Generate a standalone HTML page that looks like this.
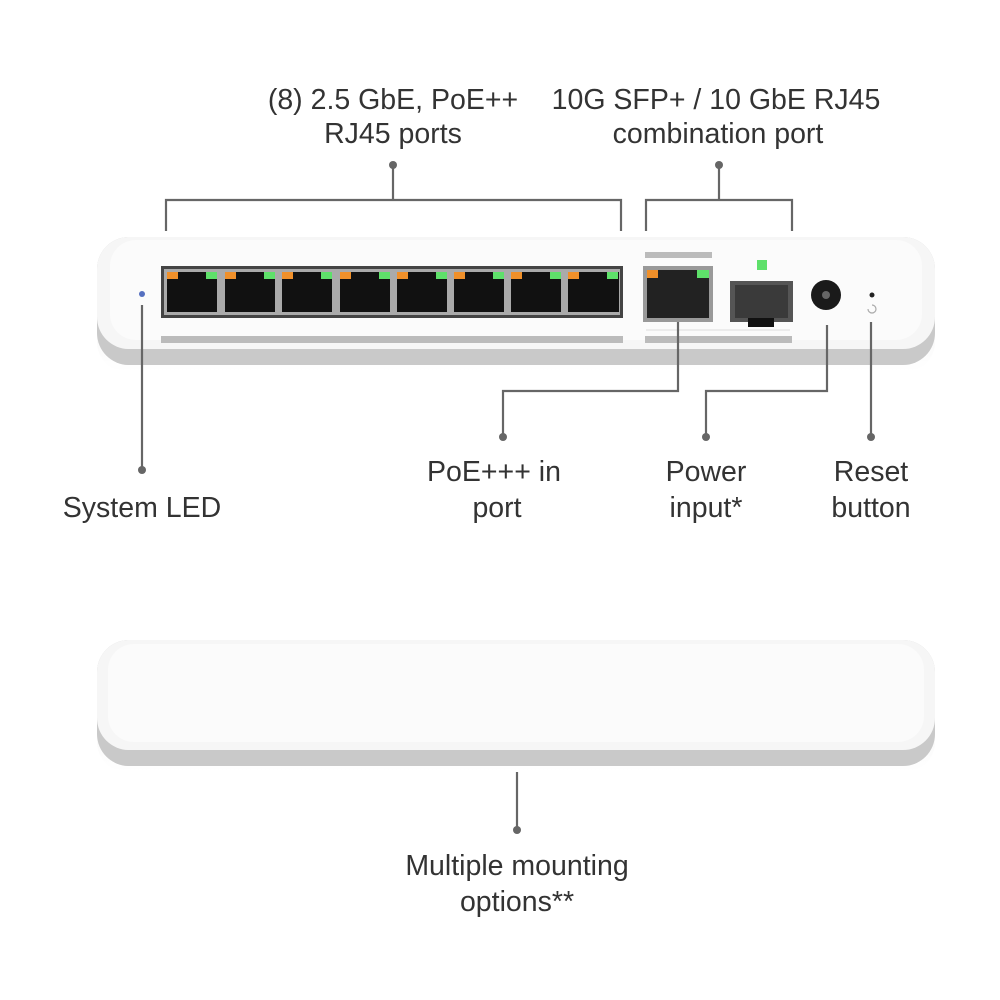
<!DOCTYPE html>
<html><head><meta charset="utf-8"><style>
html,body{margin:0;padding:0;background:#fff;}
svg{display:block}
text{font-family:"Liberation Sans","DejaVu Sans",sans-serif;fill:#333;font-size:28.5px;text-anchor:middle}
</style></head><body>
<svg width="1000" height="1000" viewBox="0 0 1000 1000" xmlns="http://www.w3.org/2000/svg">
<defs>
<linearGradient id="sh" x1="0" y1="0" x2="0" y2="1"><stop offset="0" stop-color="#ddd"/><stop offset="1" stop-color="#fff"/></linearGradient>
</defs>
<!-- labels -->
<text x="393" y="109">(8) 2.5 GbE, PoE++</text>
<text x="393" y="143">RJ45 ports</text>
<text x="716" y="109">10G SFP+ / 10 GbE RJ45</text>
<text x="718" y="143">combination port</text>
<text x="142" y="517">System LED</text>
<text x="494" y="481">PoE+++ in</text>
<text x="497" y="517">port</text>
<text x="706" y="481">Power</text>
<text x="706" y="517">input*</text>
<text x="871" y="481">Reset</text>
<text x="871" y="517">button</text>
<text x="517" y="875">Multiple mounting</text>
<text x="517" y="911">options**</text>

<!-- device 1 -->
<rect x="97" y="262" width="838" height="110" rx="30" fill="url(#sh)" opacity="0.5"/>
<rect x="97" y="237" width="838" height="128" rx="32" fill="#c9c9c9"/>
<rect x="97" y="237" width="838" height="112" rx="32" fill="#f6f6f6"/>
<rect x="110" y="240" width="812" height="100" rx="26" fill="#fbfbfb"/>
<circle cx="142" cy="294" r="3" fill="#5570c0"/>
<!-- 8 ports -->
<rect x="161" y="266" width="462" height="52" fill="#444"/>
<rect x="164" y="269" width="456" height="46" fill="#aaa"/>
<g fill="#111">
<rect x="167" y="272" width="50" height="40"/><rect x="225" y="272" width="50" height="40"/><rect x="282" y="272" width="50" height="40"/><rect x="340" y="272" width="50" height="40"/><rect x="397" y="272" width="50" height="40"/><rect x="454" y="272" width="50" height="40"/><rect x="511" y="272" width="50" height="40"/><rect x="568" y="272" width="51" height="40"/>
</g>
<g fill="#f0902a">
<rect x="167" y="272" width="11" height="7"/><rect x="225" y="272" width="11" height="7"/><rect x="282" y="272" width="11" height="7"/><rect x="340" y="272" width="11" height="7"/><rect x="397" y="272" width="11" height="7"/><rect x="454" y="272" width="11" height="7"/><rect x="511" y="272" width="11" height="7"/><rect x="568" y="272" width="11" height="7"/><rect x="647" y="274" width="11" height="8"/>
</g>
<g fill="#5ee06a">
<rect x="206" y="272" width="11" height="7"/><rect x="264" y="272" width="11" height="7"/><rect x="321" y="272" width="11" height="7"/><rect x="379" y="272" width="11" height="7"/><rect x="436" y="272" width="11" height="7"/><rect x="493" y="272" width="11" height="7"/><rect x="550" y="272" width="11" height="7"/><rect x="607" y="272" width="11" height="7"/><rect x="697" y="274" width="12" height="8"/><rect x="757" y="260" width="10" height="10"/>
</g>
<rect x="161" y="336" width="462" height="7" fill="#bbb"/>
<!-- poe in port -->
<rect x="645" y="252" width="67" height="6" fill="#bbb"/>
<rect x="643" y="266" width="70" height="56" fill="#999"/>
<rect x="647" y="270" width="62" height="48" fill="#222"/>
<rect x="647" y="270" width="11" height="8" fill="#f0902a"/>
<rect x="697" y="270" width="12" height="8" fill="#5ee06a"/>
<rect x="645" y="336" width="147" height="7" fill="#bbb"/>
<line x1="646" y1="330" x2="790" y2="330" stroke="#ddd" stroke-width="1"/>
<!-- sfp -->
<rect x="730" y="281" width="63" height="41" fill="#555"/>
<rect x="735" y="285" width="53" height="33" fill="#3a3a3a"/>
<rect x="748" y="318" width="26" height="9" fill="#111"/>
<!-- power -->
<circle cx="826" cy="295" r="15" fill="#1a1a1a"/>
<circle cx="826" cy="295" r="4" fill="#666"/>
<circle cx="872" cy="295" r="2.5" fill="#222"/>
<path d="M868 309 a4 4 0 1 0 4 -4" fill="none" stroke="#aaa" stroke-width="1.2"/>

<!-- device 2 -->
<rect x="97" y="660" width="838" height="112" rx="30" fill="url(#sh)" opacity="0.5"/>
<rect x="97" y="640" width="838" height="126" rx="32" fill="#c9c9c9"/>
<rect x="97" y="640" width="838" height="110" rx="32" fill="#f6f6f6"/>
<rect x="108" y="644" width="816" height="98" rx="26" fill="#fbfbfb"/>

<!-- connectors -->
<g stroke="#666" stroke-width="2.2" fill="none">
<path d="M166 231 V200 H621 V231 M393 200 V165"/>
<path d="M646 231 V200 H792 V231 M719 200 V165"/>
<path d="M678 322 V391 H503 V437"/>
<path d="M827 325 V391 H706 V437"/>
<path d="M871 322 V437"/>
<path d="M142 305 V470"/>
<path d="M517 772 V830"/>
</g>
<g fill="#666">
<circle cx="393" cy="165" r="4"/><circle cx="719" cy="165" r="4"/>
<circle cx="503" cy="437" r="4"/><circle cx="706" cy="437" r="4"/><circle cx="871" cy="437" r="4"/>
<circle cx="142" cy="470" r="4"/><circle cx="517" cy="830" r="4"/>
</g>
</svg>
</body></html>
